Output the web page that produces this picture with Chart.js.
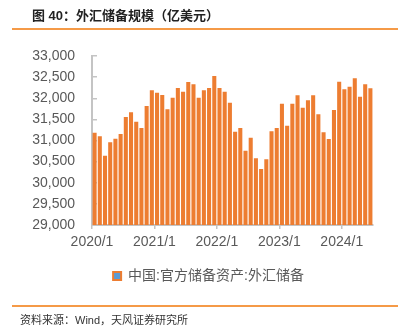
<!DOCTYPE html>
<html>
<head>
<meta charset="utf-8">
<script src="https://cdn.jsdelivr.net/npm/chart.js@4"></script>
<style>
  html, body { margin: 0; padding: 0; background: #fff; }
  body { width: 409px; height: 335px; position: relative; overflow: hidden;
         font-family: "Liberation Sans", "Noto Sans CJK SC", sans-serif; }
  #wrap { position: absolute; left: 0; top: 0; width: 409px; height: 335px; }
  .title { position: absolute; left: 32px; top: 7px; font-size: 13px; line-height: 18px;
           font-weight: bold; color: #222; white-space: nowrap;
           font-family: "Liberation Sans", "Noto Sans CJK SC", sans-serif; }
  .rule { position: absolute; left: 12px; width: 386px; height: 2px; background: #F59A47; }
  .source { position: absolute; left: 20px; top: 313px; font-size: 11px; line-height: 15px;
            color: #333; white-space: nowrap;
            font-family: "Liberation Sans", "Noto Sans CJK SC", sans-serif; }
</style>
</head>
<body>
<div id="wrap"><canvas id="c" width="409" height="335"></canvas></div>
<div class="title">图 40：外汇储备规模（亿美元）</div>
<div class="rule" style="top:28px"></div>
<div class="rule" style="top:305px"></div>
<div class="source">资料来源：Wind，天风证券研究所</div>
<script>
// Monthly categories, 2020/1 .. 2024/6
const startYear = 2020;
const monthCount = 54;
const months = [];
for (let i = 0; i < monthCount; i++) {
  months.push((startYear + Math.floor(i / 12)) + '/' + (i % 12 + 1));
}

// China official reserve assets: foreign exchange reserves (100 million USD)
const fxReserves = [
  31185, 31099, 30641, 30957, 31043, 31154, 31556, 31667, 31446, 31296, 31817, 32187,
  32132, 32077, 31738, 32014, 32243, 32156, 32385, 32329, 32014, 32187, 32243, 32527,
  32243, 32156, 31895, 31209, 31296, 30759, 31067, 30578, 30325, 30554, 31217, 31296,
  31872, 31351, 31872, 32069, 31777, 31951, 32069, 31619, 31193, 31035, 31722, 32392,
  32211, 32274, 32471, 32037, 32329, 32235
];

const tickLabels = ['2020/1', '2021/1', '2022/1', '2023/1', '2024/1'];
const seriesName = '中国:官方储备资产:外汇储备';

const yMin = 29000, yMax = 33000, yStep = 500;

const barColor = '#ED7D31';
const axisColor = '#C4C4C4';
const textColor = '#595959';
const fontFamily = '"Liberation Sans", "Noto Sans CJK SC", sans-serif';

const points = fxReserves.map((v, i) => ({ x: i + 0.5, y: v }));

// Nudge the legend box sideways so it centres under the plot rather than the canvas
const legendShift = {
  id: 'legendShift',
  afterLayout(chart) {
    const lg = chart.legend;
    if (lg) { lg.left += 22; lg.right += 22; }
  }
};

new Chart(document.getElementById('c'), {
  type: 'bar',
  data: {
    datasets: [{
      label: seriesName,
      data: points,
      backgroundColor: barColor,
      borderWidth: 0,
      categoryPercentage: 1,
      barPercentage: 0.78
    }]
  },
  plugins: [legendShift],
  options: {
    responsive: false,
    animation: false,
    devicePixelRatio: 1,
    layout: { padding: { top: 56, left: 0, right: 36, bottom: 42 } },
    plugins: {
      tooltip: { enabled: false },
      legend: {
        position: 'bottom',
        labels: {
          color: textColor,
          font: { family: fontFamily, size: 14 },
          boxWidth: 8,
          boxHeight: 8,
          padding: 10,
          generateLabels: (chart) => chart.data.datasets.map((ds, i) => ({
            text: ds.label,
            fillStyle: '#5B9BD5',
            strokeStyle: barColor,
            lineWidth: 2,
            fontColor: textColor,
            datasetIndex: i,
            hidden: false
          }))
        }
      }
    },
    scales: {
      x: {
        type: 'linear',
        min: 0,
        max: monthCount,
        offset: false,
        afterFit: (s) => { s.height = 34; },
        afterBuildTicks: (s) => {
          s.ticks = tickLabels.map(l => ({ value: months.indexOf(l) }));
        },
        ticks: {
          autoSkip: false,
          maxRotation: 0,
          padding: 5,
          color: textColor,
          font: { family: fontFamily, size: 14 },
          callback: (v) => months[v]
        },
        grid: {
          offset: false,
          drawOnChartArea: false,
          drawTicks: true,
          tickLength: 4,
          color: axisColor,
          lineWidth: 1.5
        },
        border: { color: axisColor, width: 2 }
      },
      y: {
        min: yMin,
        max: yMax,
        afterFit: (s) => { s.width = 92; },
        ticks: {
          stepSize: yStep,
          padding: 22,
          color: textColor,
          font: { family: fontFamily, size: 14 },
          callback: (v) => v.toLocaleString('en-US')
        },
        grid: {
          drawOnChartArea: false,
          drawTicks: true,
          tickLength: -5,
          color: axisColor,
          lineWidth: 1.5
        },
        border: { color: axisColor, width: 2 }
      }
    }
  }
});
</script>
</body>
</html>
